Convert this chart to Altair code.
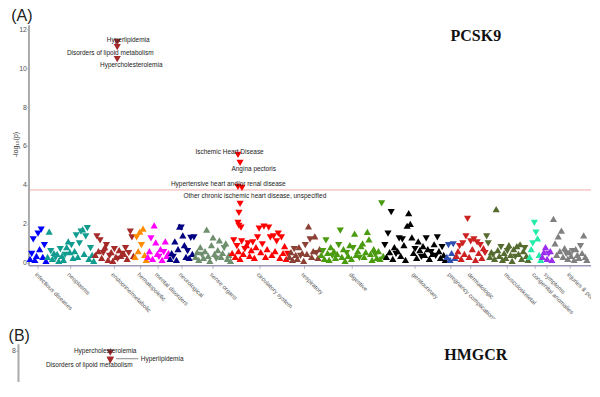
import altair as alt
import pandas as pd

# ---------------- data ----------------
groups = ["infectious diseases", "neoplasms", "endocrine/metabolic", "hematopoietic",
          "mental disorders", "neurological", "sense organs", "circulatory system",
          "respiratory", "digestive", "genitourinary", "pregnancy complications",
          "dermatologic", "musculoskeletal", "congenital anomalies", "symptoms",
          "injuries & poisonings"]
colors = ["#0000FF", "#119C8F", "#A52A2A", "#FF8C00", "#FF00FF", "#000080", "#6F8F6F",
          "#FF0000", "#8B4035", "#4B9B10", "#000000", "#2C4FB0", "#CC2222", "#556B2F",
          "#24EBAA", "#9A2DEB", "#808080"]

# signed -log10(p): positive = triangle up, negative = triangle down (PCSK9)
infectious = [0.2, -0.45, -1.2, 0.15, 0.35, -1.5, 0.7, -1.7, 0.3, -0.9, 0.1]
neoplasms = [0.3, 1.6, -0.6, 0.2, 0.5, -0.25, 0.45, 0.1, -0.7, 0.35, 0.15, -0.4, 0.8, 1.1, 0.55,
             -0.9, 0.25, 0.6, -1.4, 0.3, -1.0, -1.6, 1.72, 0.45, -1.35, -1.78, 0.2, -0.75, 0.4, 0.1]
endocrine = [0.4, -1.35, 0.6, -1.15, 0.25, -0.5, 0.8, -0.9, 0.15, -0.35, 0.55, 0.1, -0.7, 0.3,
             -0.2, 0.65, 0.35, -0.45, 0.45, -0.75, 0.2, -0.5, -1.6, -1.3, 0.35]
hematopoietic = [0.3, -1.3, 0.6, 1.6, -0.9, 1.75, 0.4, 0.15]
mental = [0.3, 0.6, -1.25, 0.2, 1.92, 1.05, 0.45, -0.3, 0.7, 0.15, -0.55, 1.1, 0.35, 0.5]
neurological = [0.2, 0.5, -0.3, 1.1, 0.15, 0.7, 1.85, -1.8, 1.4, 0.9, 0.3, -0.6, 0.25, -1.28, 0.45, -1.3]
sense = [0.3, 0.55, 0.15, 0.8, -0.4, 0.25, 0.6, 1.7, 0.35, 0.1, 0.9, 1.3, 0.45, -0.2, 0.65, 1.15,
         0.3, 0.5, -0.75, 1.0, 0.2, 0.4, 0.1]
circulatory = [0.5, -1.15, 0.3, -0.85, 0.6, 0.2, -1.1, 0.45, -0.7, 0.9, -1.0, 0.35, 0.65, -1.05,
               0.25, 0.8, -1.3, -1.75, 0.55, -0.95, -1.85, 0.3, 0.7, -1.8, -1.3, 0.4, -1.35, 0.6,
               -1.1, -1.5, 0.25, -1.3, 0.5, 0.85, 0.2, -0.45]
respiratory = [0.3, 0.55, 0.15, -0.7, 0.4, 0.2, 0.8, -0.35, 0.5, 0.1, -0.9, 0.45, 1.87, -1.2, 0.3,
               0.6, 1.35, -0.5, 0.25, 0.7]
digestive = [0.4, -0.6, 0.2, -1.15, 0.5, 0.15, 0.8, -0.35, 0.6, 0.25, 0.45, -0.9, -1.65, 0.3, 0.7,
             0.1, -0.5, 0.35, 0.9, 0.2, -0.75, 1.5, 0.4, 0.6, -0.25, 0.85, 1.0, 0.3, 0.55, 1.58,
             1.2, 0.45, 0.15, 0.7, -0.4, 0.25, 0.6, 0.2, -3.05, 0.35]
genitourinary = [-0.9, 0.3, -1.5, 0.55, -2.6, 0.2, 0.8, -0.45, 0.6, -1.25, 0.35, -1.2, 0.9, 0.15,
                 1.9, 2.55, 2.0, 1.3, 0.5, -0.7, 0.25, 1.1, 0.65, -0.3, 0.85, 0.4, -1.25, 0.7, 0.2,
                 -0.55, 0.45, 0.95, -0.35, -1.3, 0.6, 0.25, -0.8, 0.4, 0.15]
pregnancy = [0.3, -0.9, 0.15, 0.5, -0.95, 0.25]
dermatologic = [0.35, 0.6, -0.85, 0.2, -1.0, 0.45, -1.35, -2.25, 0.3, -1.1, 0.7, -1.2, 0.15, -1.05,
                0.5, -0.9, 0.25, 0.75, -0.5]
musculoskeletal = [-1.35, -1.0, 0.3, 0.55, -0.4, 0.2, 2.75, 0.65, 0.35, -0.8, 0.15, 0.5, 0.25, -0.6,
                   0.9, 0.4, 0.1, 0.7, -0.3, 0.85, 0.45, 0.95, 0.2, 0.6, -0.75, 0.35, 0.15]
congenital = [0.3, 0.7, -1.0, -2.05, -1.55, 1.25, 0.4, 0.15]
symptoms = [0.3, 0.55, 0.8, 0.2, -0.45, 0.6, 0.15]
injuries = [2.25, 1.0, 0.4, 1.35, 0.6, 1.65, 0.3, 0.75, -0.45, 0.2, 0.55, 0.35, -0.6, 0.15, 0.7,
            0.4, 0.25, -0.85, 0.5, 1.4, 0.3, 0.15]
series = [infectious, neoplasms, endocrine, hematopoietic, mental, neurological, sense, circulatory,
          respiratory, digestive, genitourinary, pregnancy, dermatologic, musculoskeletal,
          congenital, symptoms, injuries]

# notable phenotypes (PCSK9), position along the phecode axis
hl_x = [54.8, 54.8, 54.8, 130.7, 132.0, 130.7, 133.2, 132.0, 131.3, 130.7, 131.3, 132.6]
hl_y = [-11.08, -11.33, -10.46, -5.54, -5.13, -3.9, -3.85, -3.03, -2.56, -2.05, -1.9, -1.8]
hl_group = ["endocrine/metabolic"] * 3 + ["circulatory system"] * 9

ann_text = ["Hyperlipidemia", "Disorders of lipoid metabolism", "Hypercholesterolemia",
            "Ischemic Heart Disease", "Angina pectoris", "Hypertensive heart and/or renal disease",
            "Other chronic ischemic heart disease, unspecified"]
ann_x = [61.7, 50.4, 63.6, 125.4, 140.6, 124.6, 141.3]
ann_y = [11.43, 10.76, 10.15, 5.70, 4.80, 4.05, 3.43]

threshold = [3.74]

# HMGCR panel
b_x = [54.8, 54.8, 54.8]
b_y = [7.9, 7.54, 7.5]
b_text = ["Hypercholesterolemia", "Hyperlipidemia", "Disorders of lipoid metabolism"]
b_text_x = [51.6, 87.4, 41.6]
b_text_y = [8.0, 7.56, 7.26]
b_link_x = [58.5]
b_link_x2 = [72.4]
b_link_y = [7.59]

# ---------------- axis extents (data units) ----------------
X_MIN, X_MAX = -0.7, 352.6
XB_MIN, XB_MAX = 3.7, 356.9
Y_AXIS, Y_TOP = -0.154, 12.2          # x-axis line and top of panel A
Y_TICK_END, Y_LABEL, Y_BAND = -0.31, -0.45, -2.88   # tick end, label anchor, bottom of label band
YB_MIN, YB_MAX = 6.41, 8.36

# ---------------- tables ----------------
rows = []
centers = []
start = 0
for g, vals in zip(groups, series):
    for k, v in enumerate(vals):
        rows.append({"x": start + k, "p": abs(v), "dir": "up" if v > 0 else "down", "group": g})
    centers.append(start + (len(vals) - 1) / 2)
    start += len(vals)
for x, v, g in zip(hl_x, hl_y, hl_group):
    rows.append({"x": x, "p": abs(v), "dir": "up" if v > 0 else "down", "group": g})
df = pd.DataFrame(rows)

FONT = "Liberation Sans"
color_enc = alt.Color("group:N", scale=alt.Scale(domain=groups, range=colors), legend=None)
shape_enc = alt.Shape("dir:N", scale=alt.Scale(domain=["up", "down"],
                                                range=["triangle-up", "triangle-down"]), legend=None)

axisYA = alt.Axis(values=[0, 2, 4, 6, 8, 10, 12], title="-log\u2081\u2080(p)", titleFontSize=7,
                  titleFontWeight="normal", titleColor="#333", titleFont=FONT, titleY=119,
                  labelFontSize=7, labelColor="#555", labelFont=FONT, tickSize=2,
                  tickColor="#999", domain=False, grid=False, titlePadding=0.5, labelPadding=0.5)
scXA = alt.Scale(domain=[X_MIN, X_MAX], nice=False, zero=False)
scYA = alt.Scale(domain=[Y_BAND, Y_TOP], nice=False, zero=False)
xA = alt.X("x:Q", scale=scXA, axis=None)
yA = alt.Y("p:Q", scale=scYA, axis=axisYA)

pts = alt.Chart(df).mark_point(filled=True, opacity=1, size=52).encode(
    x=xA, y=yA, color=color_enc, shape=shape_enc)

thr = alt.Chart(pd.DataFrame({"p": threshold})).mark_rule(color="#F4AAAA", strokeWidth=1).encode(
    y=yA)

# axis lines, ticks and rotated category labels (clipped at the panel edge)
xline = alt.Chart(pd.DataFrame({"x": [X_MIN], "x2": [X_MAX], "p": [Y_AXIS]})).mark_rule(
    color="#9a9ab8", strokeWidth=1.5).encode(x=xA, x2="x2:Q", y=yA)
yline = alt.Chart(pd.DataFrame({"x": [X_MIN], "p": [Y_AXIS], "p2": [Y_TOP]})).mark_rule(
    color="#aaaaaa", strokeWidth=2).encode(x=xA, y=yA, y2="p2:Q")
ticks = alt.Chart(pd.DataFrame({"x": centers, "p": [Y_AXIS] * len(centers),
                                "p2": [Y_TICK_END] * len(centers)})).mark_rule(
    color="#999", strokeWidth=0.8).encode(x=xA, y=yA, y2="p2:Q")
xlabels = alt.Chart(pd.DataFrame({"x": centers, "p": [Y_LABEL] * len(centers), "t": groups})).mark_text(
    angle=45, align="left", baseline="top", fontSize=6, font=FONT, color="#555", clip=True).encode(
    x=xA, y=yA, text="t:N")

ann = alt.Chart(pd.DataFrame({"x": ann_x, "p": ann_y, "t": ann_text})).mark_text(
    fontSize=6.5, font=FONT, color="#222").encode(x=xA, y=yA, text="t:N")

gene_a = alt.Chart(pd.DataFrame({"x": [280.2], "p": [11.64], "t": ["PCSK9"]})).mark_text(
    fontSize=16, font="Liberation Serif", fontWeight="bold", color="#111").encode(
    x=xA, y=yA, text="t:N")

panelA = alt.layer(thr, yline, xline, ticks, pts, xlabels, ann, gene_a).properties(
    width=563, height=294,
    title=alt.TitleParams("(A)", anchor="start", frame="bounds", fontSize=16, fontWeight="normal",
                          font=FONT, color="#222", offset=0))

# panel B
dfb = pd.DataFrame({"x": b_x, "p": b_y, "dir": ["down"] * 3, "group": ["endocrine/metabolic"] * 3})
xB = alt.X("x:Q", scale=alt.Scale(domain=[XB_MIN, XB_MAX], nice=False, zero=False), axis=None)
yB = alt.Y("p:Q", scale=alt.Scale(domain=[YB_MIN, YB_MAX], nice=False, zero=False),
           axis=alt.Axis(values=[8], title=None, labelFontSize=7, labelColor="#555", labelFont=FONT,
                         tickSize=2, tickColor="#999", domainColor="#aaaaaa", domainWidth=2,
                         grid=False, labelPadding=0.5, offset=11))
ptsB = alt.Chart(dfb).mark_point(filled=True, opacity=1, size=52).encode(
    x=xB, y=yB, color=color_enc, shape=shape_enc)
linkB = alt.Chart(pd.DataFrame({"x": b_link_x, "x2": b_link_x2, "p": b_link_y})).mark_rule(
    color="#555", strokeWidth=0.7).encode(x=xB, x2="x2:Q", y=yB)
annB = alt.Chart(pd.DataFrame({"x": b_text_x, "p": b_text_y, "t": b_text})).mark_text(
    fontSize=6.5, font=FONT, color="#222").encode(x=xB, y=yB, text="t:N")
gene_b = alt.Chart(pd.DataFrame({"x": [284.5], "p": [7.8], "t": ["HMGCR"]})).mark_text(
    fontSize=16, font="Liberation Serif", fontWeight="bold", color="#111").encode(
    x=xB, y=yB, text="t:N")

panelB = alt.layer(linkB, ptsB, annB, gene_b).properties(
    width=563, height=38,
    title=alt.TitleParams("(B)", anchor="start", frame="bounds", fontSize=16, fontWeight="normal",
                          font=FONT, color="#222", offset=0, dx=-3))

chart = alt.vconcat(panelA, panelB, spacing=9).configure_view(stroke=None).properties(
    padding={"left": 0, "top": 0, "right": 0, "bottom": 0})

chart.save("out.html", embed_options={"renderer": "svg", "actions": False})
